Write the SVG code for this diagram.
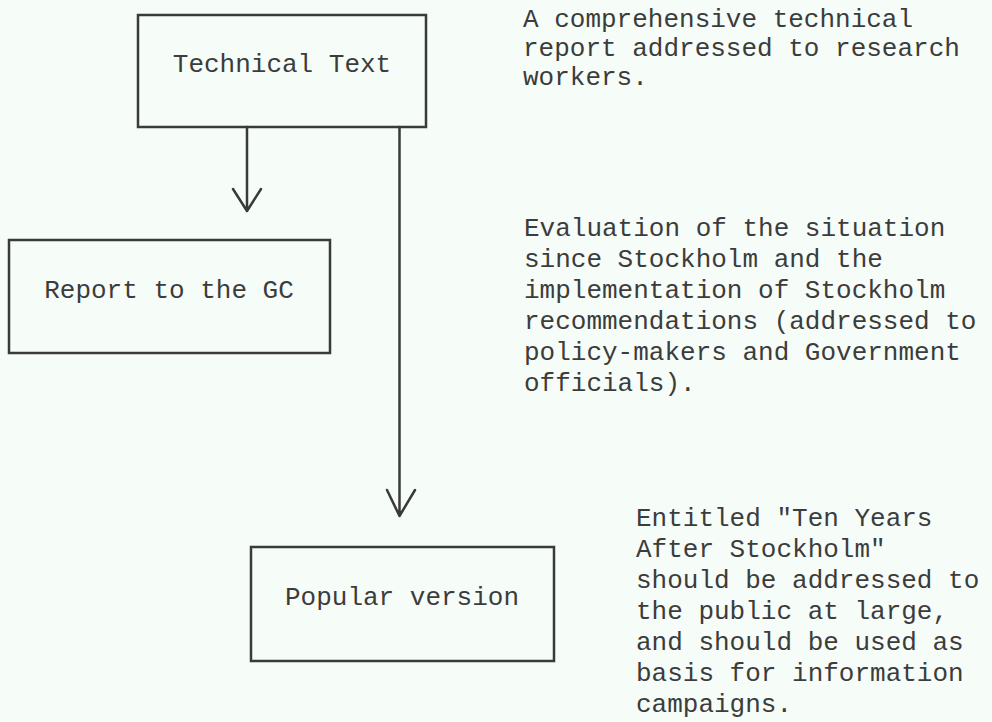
<svg xmlns="http://www.w3.org/2000/svg" width="992" height="722" viewBox="0 0 992 722">
<style>
.box{fill:none;stroke:#3a3a3a;stroke-width:2.5}
.t{font-family:"Liberation Mono","Courier New",monospace;font-size:26px;fill:#3c3c3c}
.c{fill:none;stroke:#3a3a3a;stroke-width:2.5;stroke-linecap:round;stroke-linejoin:round}
</style>
<rect width="992" height="722" fill="#f6fcf8"/>
<g id="technical-text">
<rect class="box" x="138" y="15" width="288" height="112"/>
<text class="t" x="282" y="72" text-anchor="middle">Technical Text</text>
</g>
<g id="report-gc">
<rect class="box" x="9" y="240" width="321" height="113"/>
<text class="t" x="169" y="298" text-anchor="middle">Report to the GC</text>
</g>
<g id="popular-version">
<rect class="box" x="251" y="547" width="303" height="114"/>
<text class="t" x="402" y="605" text-anchor="middle">Popular version</text>
</g>
<g id="connectors">
<path class="c" d="M247 127 V210 M233 189 L247 211 L261 189"/>
<path class="c" d="M399.5 127 V515 M387 490 L399.5 516 L415 490"/>
</g>
<g id="notes">
<text class="t" x="523" y="27">A comprehensive technical</text>
<text class="t" x="523" y="56">report addressed to research</text>
<text class="t" x="523" y="85">workers.</text>
<text class="t" x="524" y="236">Evaluation of the situation</text>
<text class="t" x="524" y="267">since Stockholm and the</text>
<text class="t" x="524" y="298">implementation of Stockholm</text>
<text class="t" x="524" y="329">recommendations (addressed to</text>
<text class="t" x="524" y="360">policy-makers and Government</text>
<text class="t" x="524" y="391">officials).</text>
<text class="t" x="636" y="526">Entitled "Ten Years</text>
<text class="t" x="636" y="557">After Stockholm"</text>
<text class="t" x="636" y="588">should be addressed to</text>
<text class="t" x="636" y="619">the public at large,</text>
<text class="t" x="636" y="650">and should be used as</text>
<text class="t" x="636" y="681">basis for information</text>
<text class="t" x="636" y="712">campaigns.</text>
</g>
</svg>
